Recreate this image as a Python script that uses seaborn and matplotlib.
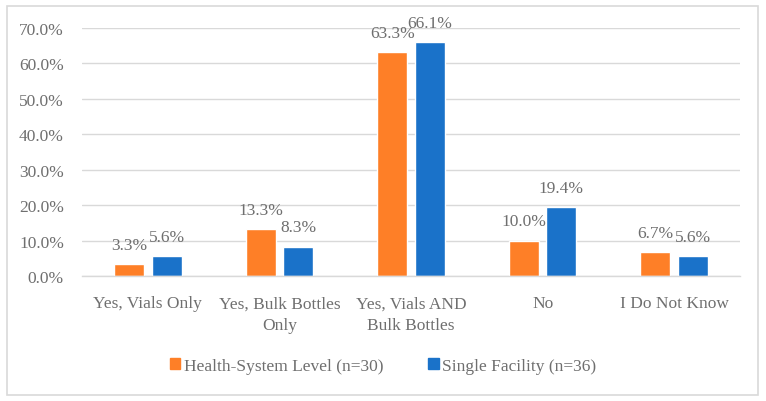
import matplotlib
matplotlib.use("Agg")
import matplotlib.pyplot as plt
import seaborn as sns
import pandas as pd
from matplotlib.patches import Rectangle

categories = ["Yes, Vials Only", "Yes, Bulk Bottles\nOnly", "Yes, Vials AND\nBulk Bottles", "No", "I Do Not Know"]
health_system = [3.3, 13.3, 63.3, 10.0, 6.7]
single_facility = [5.6, 8.3, 66.1, 19.4, 5.6]
series_names = ["Health-System Level (n=30)", "Single Facility (n=36)"]
yticks = [0, 10, 20, 30, 40, 50, 60, 70]

df = pd.DataFrame({
    "cat": categories * 2,
    "val": health_system + single_facility,
    "series": [series_names[0]] * 5 + [series_names[1]] * 5,
})

sns.set_theme(style="white")
plt.rcParams["font.family"] = ["Liberation Serif", "DejaVu Serif"]
text_color = "#6f6f6f"
fs = 12.5

fig = plt.figure(figsize=(7.66, 4.02), dpi=100)
ax = fig.add_axes([82/766, 1 - 277/402, 658/766, 248/402])

palette = {series_names[0]: "#FE7F27", series_names[1]: "#1A72C9"}
sns.barplot(data=df, x="cat", y="val", hue="series", palette=palette,
            width=0.57, gap=0.2, ax=ax, saturation=1, legend=False)

for cont in ax.containers:
    labels = [f"{v:.1f}%" for v in cont.datavalues]
    ax.bar_label(cont, labels=labels, padding=8, color=text_color, fontsize=fs)

ax.set_ylim(0, 70)
ax.set_xlim(-0.5, 4.5)
ax.set_yticks(yticks)
ax.set_yticklabels([f"{t:.1f}%" for t in yticks], color=text_color, fontsize=fs)
ax.tick_params(axis="x", colors=text_color, labelsize=fs, length=0, pad=14)
ax.tick_params(axis="y", length=0, pad=13)
for lab in ax.get_xticklabels():
    lab.set_color(text_color)
    lab.set_linespacing(1.45)
ax.set_xlabel("")
ax.set_ylabel("")
ax.yaxis.grid(True, color="#d9d9d9", linewidth=1)
ax.set_axisbelow(True)
for s in ["top", "right", "left"]:
    ax.spines[s].set_visible(False)
ax.spines["bottom"].set_color("#d9d9d9")
ax.spines["bottom"].set_linewidth(1)

handles = [Rectangle((0, 0), 1, 1, color=palette[n]) for n in series_names]
fig.legend(handles, series_names, loc="center", bbox_to_anchor=(0.5, 1 - 367/402),
           ncol=2, frameon=False, fontsize=fs, labelcolor=text_color,
           handlelength=0.6, handleheight=0.6, handletextpad=0.2, columnspacing=2.6)

fig.patches.append(Rectangle((7/766, 6/402), 751/766, 389/402, transform=fig.transFigure,
                             fill=False, edgecolor="#d9d9d9", linewidth=1.2))

fig.savefig("out.png", dpi=100)
